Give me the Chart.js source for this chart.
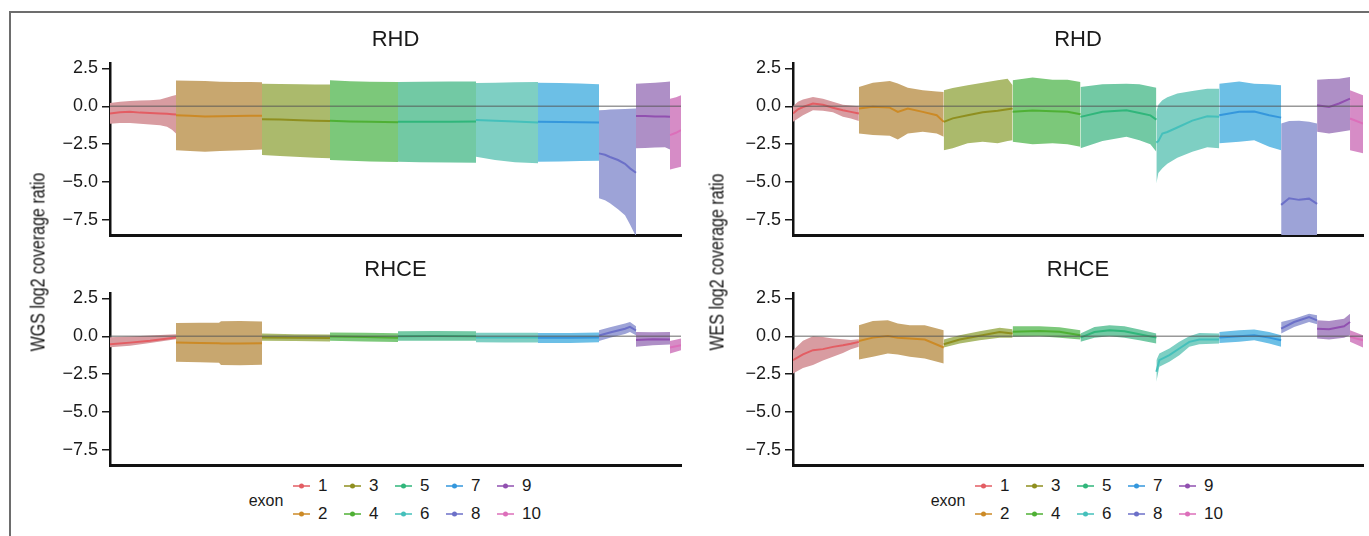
<!DOCTYPE html>
<html>
<head>
<meta charset="utf-8">
<script src="https://cdn.jsdelivr.net/npm/chart.js@4.4.1/dist/chart.umd.min.js"></script>
<style>
  body { margin: 0; width: 1369px; height: 536px; overflow: hidden; background: #fff;
         font-family: "Liberation Sans", Arial, Helvetica, sans-serif; color: #1a1a1a; }
  .frame { position: absolute; left: 9px; top: 11px; width: 1400px; height: 600px;
           border-top: 2px solid #6d6d6d; border-left: 2px solid #6d6d6d; }
  canvas { position: absolute; }
  .ytitle { position: absolute; white-space: nowrap; font-size: 20px; color: #111;
            transform: translate(-50%, -50%) rotate(-90deg) scaleX(0.8); }
  .lg { position: absolute; font-size: 17px; line-height: 20px; white-space: nowrap; }
  .lgname { position: absolute; font-size: 16px; transform: translate(-50%, -50%); }
</style>
</head>
<body>
<div class="frame"></div>
<canvas id="wgsRhd" width="650" height="223" style="left:40px;top:15px"></canvas>
<canvas id="wgsRhce" width="650" height="223" style="left:40px;top:245px"></canvas>
<canvas id="wesRhd" width="650" height="223" style="left:723px;top:15px"></canvas>
<canvas id="wesRhce" width="650" height="223" style="left:723px;top:245px"></canvas>
<div class="ytitle" style="left:38px;top:262px">WGS log2 coverage ratio</div>
<div class="ytitle" style="left:717px;top:262px">WES log2 coverage ratio</div>
<div id="legendL"></div>
<div id="legendR"></div>

<script>
// exons and colours
const exonNames = ['1', '2', '3', '4', '5', '6', '7', '8', '9', '10'];
const lineColors = ['#e35d63', '#cc8a26', '#8f8f1f', '#4fb035', '#30b67b', '#45c0bb', '#3597dc', '#6c70c8', '#9150b0', '#dc6fba'];
const bandColors = ['#d89ca1', '#c8a76f', '#abba6c', '#7cc87a', '#72c9a4', '#7ecfc3', '#6cbfe6', '#9da3d7', '#ae8fc6', '#d68cc6'];
const yTicks = [2.5, 0, -2.5, -5, -7.5];
const yMin = -8.5, yMax = 2.83;
const xMin = 0, xMax = 571;

// WGS, RHD  (position along concatenated exons, per exon)
const wgsRhdPos = [
  [0, 10, 20, 30, 40, 50, 57, 62, 66],
  [66, 80, 95, 110, 125, 140, 152],
  [152, 170, 190, 205, 220],
  [220, 240, 260, 288],
  [288, 310, 340, 366],
  [366, 385, 405, 428],
  [428, 450, 470, 489],
  [489, 495, 500, 508, 515, 520, 526],
  [526, 535, 545, 555, 560],
  [560, 566, 571]
];
const wgsRhdLow = [
  [-1.15, -1.1, -1.1, -1.15, -1.2, -1.25, -1.35, -1.55, -1.8],
  [-2.9, -2.95, -3.0, -2.95, -2.92, -2.88, -2.85],
  [-3.22, -3.28, -3.35, -3.4, -3.44],
  [-3.55, -3.6, -3.65, -3.68],
  [-3.66, -3.7, -3.72, -3.73],
  [-3.33, -3.55, -3.7, -3.77],
  [-3.66, -3.64, -3.62, -3.6],
  [-6.07, -6.2, -6.4, -6.8, -7.2, -7.8, -8.6],
  [-2.78, -2.75, -2.72, -2.7, -2.85],
  [-4.17, -4.08, -4.0]
];
const wgsRhdMean = [
  [-0.48, -0.4, -0.36, -0.42, -0.45, -0.48, -0.5, -0.52, -0.55],
  [-0.6, -0.62, -0.68, -0.66, -0.65, -0.63, -0.63],
  [-0.86, -0.88, -0.92, -0.95, -0.97],
  [-0.95, -1.0, -1.03, -1.05],
  [-1.03, -1.03, -1.02, -1.0],
  [-0.9, -0.95, -1.0, -1.08],
  [-1.03, -1.04, -1.05, -1.07],
  [-3.11, -3.2, -3.35, -3.55, -3.8, -4.1, -4.39],
  [-0.64, -0.65, -0.67, -0.68, -0.7],
  [-1.91, -1.75, -1.58]
];
const wgsRhdHigh = [
  [0.22, 0.3, 0.35, 0.38, 0.4, 0.45, 0.58, 0.68, 0.75],
  [1.7, 1.68, 1.66, 1.62, 1.6, 1.6, 1.58],
  [1.49, 1.47, 1.45, 1.44, 1.43],
  [1.71, 1.65, 1.62, 1.6],
  [1.6, 1.62, 1.64, 1.64],
  [1.53, 1.55, 1.58, 1.6],
  [1.56, 1.53, 1.5, 1.45],
  [-0.26, -0.24, -0.22, -0.2, -0.18, -0.16, -0.15],
  [1.49, 1.52, 1.56, 1.6, 1.64],
  [0.5, 0.6, 0.72]
];

// WGS, RHCE
const wgsRhcePos = [
  [0, 20, 40, 66],
  [66, 90, 109, 111, 130, 152],
  [152, 185, 220],
  [220, 255, 288],
  [288, 325, 366],
  [366, 395, 428],
  [428, 460, 489],
  [489, 500, 515, 520, 526],
  [526, 543, 560],
  [560, 571]
];
const wgsRhceLow = [
  [-0.72, -0.62, -0.45, -0.2],
  [-1.69, -1.72, -1.75, -1.9, -1.92, -1.88],
  [-0.3, -0.32, -0.35],
  [-0.3, -0.35, -0.38],
  [-0.3, -0.3, -0.3],
  [-0.4, -0.42, -0.42],
  [-0.44, -0.44, -0.4],
  [-0.31, -0.1, 0.15, 0.28, 0.07],
  [-0.7, -0.6, -0.55],
  [-1.14, -0.92]
];
const wgsRhceMean = [
  [-0.52, -0.42, -0.3, -0.08],
  [-0.42, -0.44, -0.46, -0.48, -0.48, -0.46],
  [-0.08, -0.1, -0.12],
  [-0.02, -0.05, -0.1],
  [0.0, 0.02, 0.0],
  [-0.08, -0.08, -0.08],
  [-0.1, -0.1, -0.08],
  [0.05, 0.25, 0.5, 0.62, 0.38],
  [-0.25, -0.2, -0.22],
  [-0.74, -0.59]
];
const wgsRhceHigh = [
  [-0.07, -0.02, 0.05, 0.13],
  [0.88, 0.9, 0.9, 0.99, 1.0, 0.98],
  [0.18, 0.14, 0.12],
  [0.25, 0.24, 0.2],
  [0.33, 0.35, 0.33],
  [0.24, 0.24, 0.24],
  [0.22, 0.22, 0.25],
  [0.39, 0.6, 0.85, 0.94, 0.66],
  [0.28, 0.26, 0.28],
  [-0.31, -0.15]
];

// WES, RHD
const wesRhdPos = [
  [0, 5, 10, 20, 30, 40, 50, 58, 66],
  [66, 80, 97, 105, 115, 130, 144, 151],
  [151, 160, 175, 190, 205, 215, 220],
  [220, 240, 260, 275, 288],
  [288, 310, 334, 347, 358, 364],
  [364, 366, 370, 375, 385, 400, 415, 427],
  [427, 447, 462, 477, 489],
  [489, 497, 507, 517, 525],
  [525, 537, 547, 558],
  [558, 571]
];
const wesRhdLow = [
  [-1.03, -0.8, -0.59, -0.26, -0.3, -0.4, -0.7, -0.8, -0.97],
  [-1.8, -1.9, -1.95, -2.2, -1.8, -1.69, -1.8, -2.02],
  [-2.9, -2.78, -2.45, -2.35, -2.45, -2.3, -2.24],
  [-2.35, -2.5, -2.45, -2.5, -2.68],
  [-2.78, -2.3, -2.02, -2.24, -2.5, -3.0],
  [-5.1, -4.4, -4.1, -3.8, -3.4, -3.0, -2.7, -2.78],
  [-2.45, -2.35, -2.24, -2.68, -2.9],
  [-9, -9, -9, -9, -9],
  [-1.69, -1.8, -1.7, -1.58],
  [-2.9, -3.11]
];
const wesRhdMean = [
  [-0.48, -0.2, -0.05, 0.18, 0.1, -0.1, -0.26, -0.37, -0.48],
  [-0.15, -0.04, -0.09, -0.37, -0.15, -0.37, -0.59, -1.03],
  [-1.03, -0.8, -0.59, -0.4, -0.3, -0.2, -0.15],
  [-0.37, -0.28, -0.33, -0.37, -0.53],
  [-0.7, -0.37, -0.26, -0.45, -0.6, -0.88],
  [-2.4, -2.3, -1.8, -1.7, -1.4, -0.95, -0.66, -0.7],
  [-0.59, -0.37, -0.35, -0.59, -0.75],
  [-6.51, -6.07, -6.18, -6.1, -6.45],
  [0.07, -0.04, 0.18, 0.5],
  [-0.81, -1.14]
];
const wesRhdHigh = [
  [0.0, 0.3, 0.45, 0.61, 0.5, 0.3, 0.1, 0.05, 0.0],
  [1.27, 1.55, 1.67, 1.5, 1.23, 1.05, 0.98, 0.94],
  [1.05, 1.2, 1.38, 1.55, 1.71, 1.82, 1.38],
  [1.71, 1.9, 1.75, 1.75, 1.6],
  [1.27, 1.45, 1.49, 1.45, 1.3, 1.23],
  [-0.37, 0.1, 0.39, 0.6, 0.84, 1.0, 1.16, 1.16],
  [1.49, 1.64, 1.49, 1.45, 1.38],
  [-1.14, -0.97, -0.95, -1.03, -1.14],
  [1.75, 1.8, 1.82, 1.93],
  [1.05, 0.72]
];

// WES, RHCE
const wesRhcePos = [
  [0, 10, 20, 30, 40, 50, 58, 66],
  [66, 80, 95, 105, 117, 132, 151],
  [151, 167, 187, 207, 220],
  [220, 247, 267, 288],
  [288, 302, 317, 332, 347, 364],
  [364, 367, 377, 387, 397, 407, 427],
  [427, 447, 462, 477, 489],
  [489, 502, 517, 525],
  [525, 537, 552, 558],
  [558, 571]
];
const wesRhceLow = [
  [-2.46, -2.1, -1.9, -1.6, -1.36, -1.1, -0.85, -0.7],
  [-1.53, -1.35, -1.14, -1.2, -1.36, -1.47, -1.8],
  [-0.74, -0.48, -0.26, -0.09, -0.09],
  [-0.04, 0.0, -0.09, -0.22],
  [-0.37, -0.09, 0.0, -0.09, -0.26, -0.48],
  [-3.0, -2.02, -1.69, -1.25, -0.7, -0.53, -0.48],
  [-0.44, -0.37, -0.26, -0.48, -0.7],
  [0.18, 0.61, 0.94, 0.79],
  [-0.15, -0.22, -0.09, 0.07],
  [-0.37, -0.74]
];
const wesRhceMean = [
  [-1.58, -1.2, -0.92, -0.85, -0.7, -0.6, -0.5, -0.37],
  [-0.31, -0.09, 0.02, -0.1, -0.15, -0.22, -0.74],
  [-0.53, -0.22, 0.04, 0.28, 0.18],
  [0.3, 0.35, 0.3, 0.07],
  [-0.09, 0.28, 0.39, 0.33, 0.13, -0.09],
  [-2.35, -1.58, -1.25, -0.81, -0.37, -0.22, -0.22],
  [-0.09, 0.0, 0.07, -0.09, -0.26],
  [0.5, 0.94, 1.27, 1.05],
  [0.5, 0.46, 0.66, 0.94],
  [-0.04, -0.26]
];
const wesRhceHigh = [
  [-0.92, -0.3, 0.0, -0.05, -0.15, -0.2, -0.25, -0.2],
  [0.72, 1.0, 1.05, 0.85, 0.72, 0.72, 0.39],
  [-0.22, 0.07, 0.33, 0.57, 0.46],
  [0.66, 0.66, 0.6, 0.39],
  [0.18, 0.61, 0.72, 0.66, 0.44, 0.18],
  [-1.58, -1.14, -0.81, -0.37, 0.0, 0.22, 0.18],
  [0.28, 0.39, 0.44, 0.28, 0.07],
  [0.94, 1.16, 1.49, 1.38],
  [1.05, 1.0, 1.16, 1.49],
  [0.39, 0.07]
];

const fontFamily = '"Liberation Sans", Arial, Helvetica, sans-serif';

function fmtTick(v) {
  return (v < 0 ? '\u2212' : '') + Math.abs(v).toFixed(1);
}

// one facet: band (high -> low fill) + mean line per exon, plus the zero line
function makePanel(id, title, pos, low, mean, high, padRight) {
  const datasets = [];
  pos.forEach((xs, e) => {
    const pts = arr => xs.map((x, i) => ({ x: x, y: arr[e][i] }));
    datasets.push({ data: pts(high), borderWidth: 0, pointRadius: 0, fill: '+1', backgroundColor: bandColors[e], order: 2 });
    datasets.push({ data: pts(low), borderWidth: 0, pointRadius: 0, fill: false, order: 2 });
    datasets.push({ data: pts(mean), borderColor: lineColors[e], borderWidth: 2, pointRadius: 0, fill: false, order: 1 });
  });
  datasets.push({ data: [{ x: xMin, y: 0 }, { x: xMax, y: 0 }], borderColor: 'rgba(85,85,85,0.6)', borderWidth: 1.5, pointRadius: 0, fill: false, order: 0 });

  new Chart(document.getElementById(id), {
    type: 'line',
    data: { datasets: datasets },
    options: {
      responsive: false,
      animation: false,
      devicePixelRatio: 1,
      layout: { padding: { left: 0, right: padRight, top: 0, bottom: 0 } },
      plugins: {
        legend: { display: false },
        tooltip: { enabled: false },
        title: {
          display: true, text: title, fullSize: false, color: '#1a1a1a',
          font: { size: 22, family: fontFamily, weight: 'normal' },
          padding: { top: 12, bottom: 10 }
        }
      },
      scales: {
        x: {
          type: 'linear', min: xMin, max: xMax,
          ticks: { display: false },
          grid: { display: false },
          border: { color: '#111', width: 3 },
          afterFit: s => { s.height = 3; s.paddingLeft = 0; s.paddingRight = 0; }
        },
        y: {
          min: yMin, max: yMax,
          afterBuildTicks: s => { s.ticks = yTicks.map(v => ({ value: v })); },
          ticks: { callback: fmtTick, color: '#1a1a1a', autoSkip: false, padding: 4, font: { size: 18, family: fontFamily } },
          grid: { drawOnChartArea: false, tickLength: 8, color: '#1a1a1a', lineWidth: 1.5 },
          border: { color: '#111', width: 2.5 },
          afterFit: s => { s.width = 70; s.paddingTop = 0; s.paddingBottom = 0; }
        }
      }
    }
  });
}

makePanel('wgsRhd', 'RHD', wgsRhdPos, wgsRhdLow, wgsRhdMean, wgsRhdHigh, 9);
makePanel('wgsRhce', 'RHCE', wgsRhcePos, wgsRhceLow, wgsRhceMean, wgsRhceHigh, 9);
makePanel('wesRhd', 'RHD', wesRhdPos, wesRhdLow, wesRhdMean, wesRhdHigh, 10);
makePanel('wesRhce', 'RHCE', wesRhcePos, wesRhceLow, wesRhceMean, wesRhceHigh, 10);

// exon legend, two rows, filled column by column
function makeLegend(id, x0) {
  const box = document.getElementById(id);
  let html = '<div class="lgname" style="left:' + (x0 - 27) + 'px;top:501px">exon</div>';
  exonNames.forEach((name, e) => {
    const col = Math.floor(e / 2), row = e % 2;
    const left = x0 + col * 51;
    const top = row === 0 ? 476 : 504;
    html += '<div class="lg" style="left:' + left + 'px;top:' + top + 'px">' +
      '<svg width="20" height="20" style="vertical-align:top">' +
      '<line x1="0" y1="10" x2="17" y2="10" stroke="' + lineColors[e] + '" stroke-width="1.5"/>' +
      '<circle cx="8.5" cy="10" r="2.5" fill="' + lineColors[e] + '"/></svg>' +
      '<span style="margin-left:5px">' + name + '</span></div>';
  });
  box.innerHTML = html;
}
makeLegend('legendL', 293);
makeLegend('legendR', 975);
</script>
</body>
</html>
